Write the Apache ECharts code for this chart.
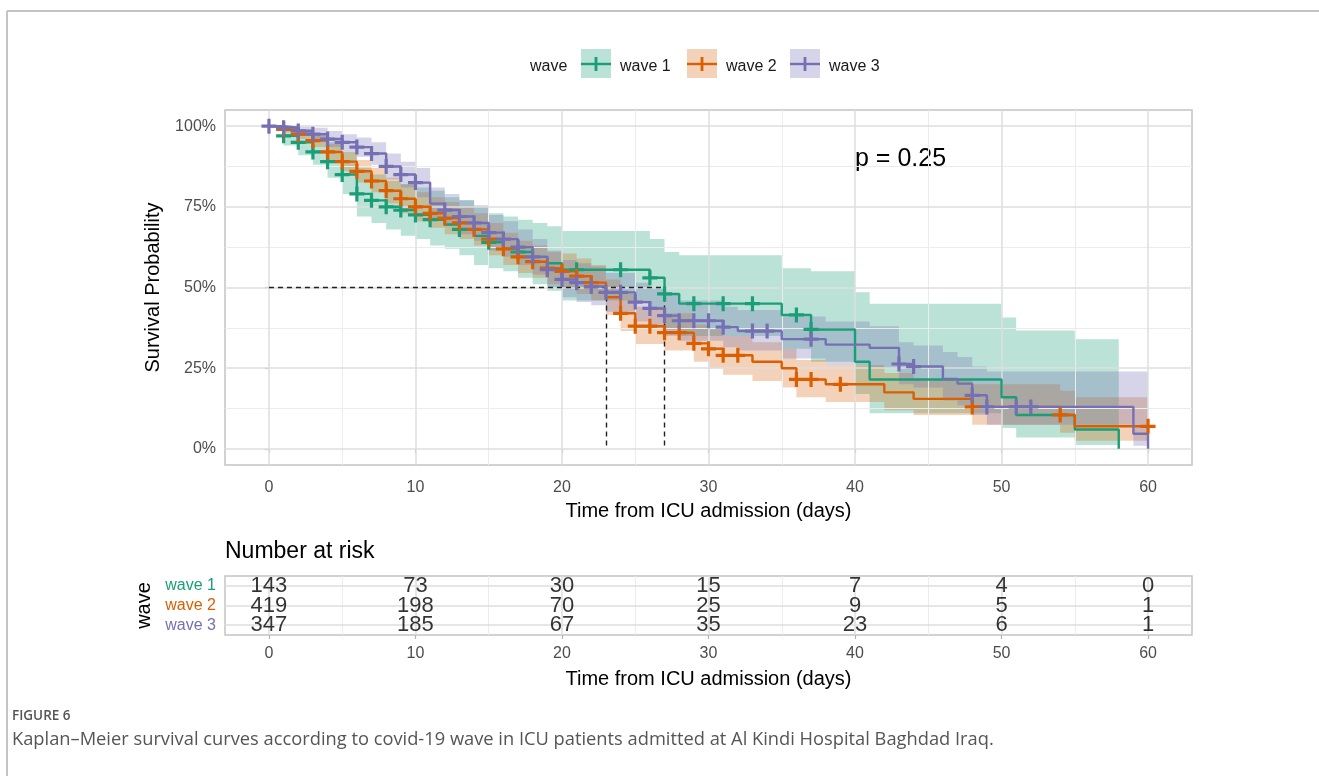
<!DOCTYPE html>
<html>
<head>
<meta charset="utf-8">
<script src="https://cdn.jsdelivr.net/npm/echarts@6/dist/echarts.min.js"></script>
<style>
  html, body { margin: 0; padding: 0; background: #fff; }
  #chart { width: 1319px; height: 776px; }
</style>
</head>
<body>
<div id="chart"></div>
<script>
// ---- data ----
var waveNames = ['wave 1', 'wave 2', 'wave 3'];
var waveColors = ['#1b9e77', '#d95f02', '#7570b3'];
var bandColors = ['rgba(27,158,119,0.30)', 'rgba(217,95,2,0.28)', 'rgba(117,112,179,0.30)'];

// wave 1 : step times (days), survival (%), 95% band
var w1Time  = [0, 1, 2, 3, 4, 5, 6, 7, 8, 9, 10, 11, 12, 13, 14, 15, 16, 17, 18, 19, 20, 26, 27, 28, 35, 37, 40, 41, 50, 51, 55, 58];
var w1Surv  = [100, 97, 95, 92, 89, 85, 79, 77, 75, 74, 72.5, 71, 69.5, 68, 66, 64, 62, 61, 59.5, 57.5, 55.5, 53, 48, 45, 41.5, 37, 27, 21.5, 16, 10.5, 6, 0];
var w1Lower = [100, 94, 91, 88, 84, 79, 72, 70, 68, 66, 65, 63, 62, 60, 57, 56, 55, 53, 51, 49, 46, 43, 37, 35, 31, 27, 17, 11, 6.5, 3.5, 1.2, 0];
var w1Upper = [100, 100, 99, 97, 95, 92, 87, 85, 83, 82, 81, 80, 78, 77, 75, 73, 72, 71, 70, 69, 67.5, 65, 61, 60, 56, 55, 48.5, 45, 40.7, 36.7, 34, 0];
var w1Censor = [1, 2, 3, 4, 5, 6, 7, 8, 9, 10, 11, 13, 15, 17, 21, 24, 26, 27, 29, 31, 33, 36, 37];

// wave 2
var w2Time  = [0, 1, 2, 3, 4, 5, 6, 7, 8, 9, 10, 11, 12, 13, 14, 15, 16, 17, 18, 19, 20, 21, 22, 23, 24, 25, 27, 29, 30, 31, 33, 35, 36, 38, 42, 44, 48, 54, 55, 60];
var w2Surv  = [100, 99, 97.5, 95.5, 92, 89, 86, 83, 80, 77.5, 75, 73, 71.5, 70, 68, 65, 62, 59.5, 58, 56, 55, 53.5, 51.5, 47, 42, 38, 36, 32.7, 31, 29, 27, 25, 21.5, 20, 17.5, 15.5, 13, 10.5, 7, 7];
var w2Lower = [100, 98, 96, 93.5, 89.5, 86, 82.5, 79.5, 76, 73, 70.5, 68.5, 66.5, 65, 63, 60, 57, 54.5, 53, 51, 49.5, 48, 46, 41.5, 36.5, 32.5, 30.5, 27, 25, 23, 21, 19, 16, 14.5, 12, 10.5, 7.5, 5, 2.5, 0];
var w2Upper = [100, 100, 99, 97.5, 94.5, 92, 89.5, 87, 84, 82, 79.5, 78, 76.5, 75, 73, 70, 67, 64.5, 63, 61, 60.5, 59, 57, 52.5, 48, 44, 42, 38.5, 37, 35, 33, 31, 27.5, 26, 23.5, 21.5, 20, 18, 16, 0];
var w2Censor = [1, 2, 3, 4, 5, 6, 7, 8, 9, 10, 11, 12, 13, 14, 15, 16, 17, 18, 19, 20, 21, 22, 24, 25, 26, 27, 28, 29, 30, 31, 32, 36, 37, 39, 48, 54, 60];

// wave 3
var w3Time  = [0, 1, 2, 3, 4, 5, 6, 7, 8, 9, 10, 11, 12, 13, 14, 15, 16, 17, 18, 19, 20, 21, 22, 23, 25, 26, 27, 28, 31, 32, 35, 38, 41, 43, 44, 46, 47, 48, 49, 59, 60];
var w3Surv  = [100, 99.5, 98.5, 97.5, 96, 95, 93.5, 91.5, 87.5, 85, 82.5, 76, 74, 72, 70, 67, 65, 62.5, 59.5, 55.5, 52.5, 51.5, 50.3, 48.5, 45.5, 43.5, 41.3, 39.7, 37.7, 36.5, 34, 32.3, 31.3, 26.3, 25.5, 21.7, 20.2, 16.6, 13, 4.7, 0];
var w3Lower = [100, 98.5, 97, 95.5, 93.5, 92, 90.5, 88, 83.5, 81, 78, 71, 69, 66.5, 64.5, 61.5, 59.5, 57, 54, 50, 47, 45.5, 44.5, 42.5, 39.5, 37.5, 35, 33.5, 31.5, 30.5, 28, 26, 25, 20, 19, 15, 13.5, 10.5, 7.5, 1, 0];
var w3Upper = [100, 100, 100, 99.5, 98.5, 97.5, 96.5, 95, 91.5, 89, 87, 81, 79, 77, 75.5, 72.5, 70.5, 68, 65, 61.5, 58.5, 57.5, 56.5, 54.5, 51.5, 50, 48, 46, 44, 43, 41, 39.5, 38, 33, 32, 30, 28.5, 25.5, 24, 24, 0];
var w3Censor = [0, 1, 2, 3, 4, 5, 6, 7, 8, 9, 10, 12, 13, 14, 15, 16, 17, 18, 19, 20, 21, 22, 23, 24, 25, 26, 27, 28, 29, 30, 31, 33, 34, 37, 43, 44, 48, 49, 51, 52];

// median survival guide lines
var medianLevel = 50;
var medianTimes = [23, 27];

// axes
var xTicks = [0, 10, 20, 30, 40, 50, 60];
var xMinor = [5, 15, 25, 35, 45, 55];
var yTicks = [0, 25, 50, 75, 100];
var yMinor = [12.5, 37.5, 62.5, 87.5];

// number at risk table
var riskTimes = [0, 10, 20, 30, 40, 50, 60];
var riskW1 = [143, 73, 30, 15, 7, 4, 0];
var riskW2 = [419, 198, 70, 25, 9, 5, 1];
var riskW3 = [347, 185, 67, 35, 23, 6, 1];

var pText = 'p = 0.25';
var captionHead = 'FIGURE 6';
var captionText = 'Kaplan\u2013Meier survival curves according to covid-19 wave in ICU patients admitted at Al Kindi Hospital Baghdad Iraq.';

// ---- helpers ----
var FONT = '"Liberation Sans", Arial, sans-serif';
var CAPFONT = '"Open Sans", "Noto Sans", sans-serif';
var PLUS = 'path://M0,5.5h14v3h-14z M5.5,0h3v14h-3z';

var waves = [
  { time: w1Time, surv: w1Surv, lo: w1Lower, hi: w1Upper, cens: w1Censor },
  { time: w2Time, surv: w2Surv, lo: w2Lower, hi: w2Upper, cens: w2Censor },
  { time: w3Time, surv: w3Surv, lo: w3Lower, hi: w3Upper, cens: w3Censor }
];

function survAt(w, t) {
  var s = w.surv[0];
  for (var i = 0; i < w.time.length; i++) {
    if (w.time[i] <= t) s = w.surv[i];
  }
  return s;
}

function bandSeries(w, color) {
  return {
    type: 'custom',
    xAxisIndex: 0, yAxisIndex: 0,
    silent: true, animation: false, z: 2,
    data: [[0, 0]],
    renderItem: function (params, api) {
      var top = [], bot = [];
      for (var i = 0; i < w.time.length - 1; i++) {
        top.push(api.coord([w.time[i], w.hi[i]]));
        top.push(api.coord([w.time[i + 1], w.hi[i]]));
        bot.push(api.coord([w.time[i], w.lo[i]]));
        bot.push(api.coord([w.time[i + 1], w.lo[i]]));
      }
      return {
        type: 'polygon',
        shape: { points: top.concat(bot.reverse()) },
        style: { fill: color }
      };
    }
  };
}

function gridLines(xi, yi, xs, xm, ys, ym) {
  var d = [];
  xm.forEach(function (v) { d.push({ xAxis: v, lineStyle: { color: '#ececec', width: 1, type: 'solid' } }); });
  ym.forEach(function (v) { d.push({ yAxis: v, lineStyle: { color: '#ececec', width: 1, type: 'solid' } }); });
  xs.forEach(function (v) { d.push({ xAxis: v, lineStyle: { color: '#dedede', width: 1.5, type: 'solid' } }); });
  ys.forEach(function (v) { d.push({ yAxis: v, lineStyle: { color: '#dedede', width: 1.5, type: 'solid' } }); });
  return {
    type: 'line', xAxisIndex: xi, yAxisIndex: yi, z: 0,
    data: [[xs[0], ys.length ? ys[0] : 1]], symbol: 'none',
    lineStyle: { opacity: 0 }, silent: true, animation: false,
    markLine: {
      symbol: ['none', 'none'], silent: true, animation: false, label: { show: false },
      lineStyle: { type: 'solid' }, data: d
    }
  };
}

var series = [];
series.push(gridLines(0, 0, xTicks, xMinor, yTicks, yMinor));

waves.forEach(function (w, k) { series.push(bandSeries(w, bandColors[k])); });

waves.forEach(function (w, k) {
  series.push({
    type: 'line', name: waveNames[k], xAxisIndex: 0, yAxisIndex: 0,
    step: 'end', showSymbol: false, symbol: 'none', animation: false, z: 5,
    data: w.time.map(function (t, i) { return [t, w.surv[i]]; }),
    lineStyle: { color: waveColors[k], width: 2.4 }
  });
});

// median dashed guides
series.push({
  type: 'line', xAxisIndex: 0, yAxisIndex: 0, data: [], z: 6, animation: false,
  markLine: {
    symbol: ['none', 'none'], silent: true, animation: false, label: { show: false },
    lineStyle: { color: '#222', type: [5, 4], width: 1.4 },
    data: [
      [{ coord: [0, medianLevel] }, { coord: [medianTimes[1], medianLevel] }],
      [{ coord: [medianTimes[0], medianLevel] }, { coord: [medianTimes[0], 0] }],
      [{ coord: [medianTimes[1], medianLevel] }, { coord: [medianTimes[1], 0] }]
    ]
  }
});

waves.forEach(function (w, k) {
  series.push({
    type: 'scatter', xAxisIndex: 0, yAxisIndex: 0, z: 7, animation: false,
    symbol: PLUS, symbolSize: 15, silent: true,
    itemStyle: { color: waveColors[k], opacity: 1 },
    data: w.cens.map(function (t) { return [t, survAt(w, t)]; })
  });
});

// risk table
series.push(gridLines(1, 1, xTicks, xMinor, [1, 2, 3], []));
[riskW1, riskW2, riskW3].forEach(function (arr, k) {
  series.push({
    type: 'scatter', xAxisIndex: 1, yAxisIndex: 1, z: 5, animation: false, silent: true,
    symbolSize: 1, itemStyle: { color: 'rgba(0,0,0,0)' },
    data: riskTimes.map(function (t, i) { return [t, k + 1, arr[i]]; }),
    label: {
      show: true, position: 'inside', color: '#000', fontSize: 22, fontFamily: FONT,
      formatter: function (p) { return String(p.value[2]); }
    }
  });
});

var axisLabelStyle = { color: '#4d4d4d', fontSize: 16, fontFamily: FONT };
var titleStyle = { color: '#000', fontSize: 20, fontFamily: FONT };

// legend drawn as keys like ggplot
var legendGraphics = [
  { type: 'text', left: 530, top: 59, style: { text: 'wave', font: '16px ' + FONT, fill: '#1a1a1a' } }
];
var keyX = [581, 687, 790];
waveNames.forEach(function (n, k) {
  var x = keyX[k];
  legendGraphics.push({ type: 'rect', shape: { x: x, y: 49, width: 30, height: 29 }, style: { fill: bandColors[k] } });
  legendGraphics.push({ type: 'line', shape: { x1: x, y1: 64, x2: x + 30, y2: 64 }, style: { stroke: waveColors[k], lineWidth: 2.4 } });
  legendGraphics.push({ type: 'line', shape: { x1: x + 15, y1: 57, x2: x + 15, y2: 71 }, style: { stroke: waveColors[k], lineWidth: 2.8 } });
  legendGraphics.push({ type: 'text', left: x + 39, top: 59, style: { text: n, font: '16px ' + FONT, fill: '#1a1a1a' } });
});

var option = {
  backgroundColor: '#fff',
  animation: false,
  grid: [
    { left: 225, right: 127, top: 110, height: 355, show: true, borderColor: '#c4c4c4', borderWidth: 1.5, backgroundColor: 'transparent' },
    { left: 225, right: 127, top: 576, height: 59, show: true, borderColor: '#c4c4c4', borderWidth: 1.5, backgroundColor: 'transparent' }
  ],
  xAxis: [
    {
      type: 'value', gridIndex: 0, min: -3, max: 63,
      axisLine: { show: false }, splitLine: { show: false },
      axisTick: { show: true, customValues: xTicks, length: 4, lineStyle: { color: '#b3b3b3', width: 1.2 } },
      axisLabel: Object.assign({ customValues: xTicks, margin: 15 }, axisLabelStyle),
      name: 'Time from ICU admission (days)', nameLocation: 'middle', nameGap: 36, nameTextStyle: titleStyle
    },
    {
      type: 'value', gridIndex: 1, min: -3, max: 63,
      axisLine: { show: false }, splitLine: { show: false },
      axisTick: { show: true, customValues: xTicks, length: 4, lineStyle: { color: '#b3b3b3', width: 1.2 } },
      axisLabel: Object.assign({ customValues: xTicks, margin: 11 }, axisLabelStyle),
      name: 'Time from ICU admission (days)', nameLocation: 'middle', nameGap: 34, nameTextStyle: titleStyle
    }
  ],
  yAxis: [
    {
      type: 'value', gridIndex: 0, min: -5, max: 105,
      axisLine: { show: false }, splitLine: { show: false },
      axisTick: { show: true, customValues: yTicks, length: 4, lineStyle: { color: '#b3b3b3', width: 1.2 } },
      axisLabel: Object.assign({ customValues: yTicks, margin: 9, formatter: function (v) { return v + '%'; } }, axisLabelStyle),
      name: 'Survival Probability', nameLocation: 'middle', nameRotate: 90, nameGap: 62, nameTextStyle: titleStyle
    },
    {
      type: 'value', gridIndex: 1, min: 0.5, max: 3.5, inverse: true,
      axisLine: { show: false }, splitLine: { show: false },
      axisTick: { show: true, customValues: [1, 2, 3], length: 4, lineStyle: { color: '#b3b3b3', width: 1.2 } },
      axisLabel: {
        customValues: [1, 2, 3], margin: 9, fontSize: 16, fontFamily: FONT,
        formatter: function (v) { return '{w' + v + '|' + waveNames[v - 1] + '}'; },
        rich: {
          w1: { color: '#1b9e77', fontSize: 16, fontFamily: FONT },
          w2: { color: '#d95f02', fontSize: 16, fontFamily: FONT },
          w3: { color: '#7570b3', fontSize: 16, fontFamily: FONT }
        }
      },
      name: 'wave', nameLocation: 'middle', nameRotate: 90, nameGap: 62, nameTextStyle: titleStyle
    }
  ],
  graphic: [
    { type: 'line', shape: { x1: 7, y1: 11, x2: 1319, y2: 11 }, style: { stroke: '#c4c4c4', lineWidth: 2 } },
    { type: 'line', shape: { x1: 7, y1: 11, x2: 7, y2: 776 }, style: { stroke: '#c4c4c4', lineWidth: 2 } },
    { type: 'text', left: 855, top: 147, style: { text: pText, font: '25px ' + FONT, fill: '#000' } },
    { type: 'text', left: 225, top: 540, style: { text: 'Number at risk', font: '23px ' + FONT, fill: '#000' } },
    { type: 'text', left: 12, top: 709, style: { text: captionHead, font: '600 13.5px ' + CAPFONT, fill: '#555' } },
    { type: 'text', left: 12, top: 731, style: { text: captionText, font: '18.3px ' + CAPFONT, fill: '#555' } }
  ].concat(legendGraphics),
  series: series
};

var chart = echarts.init(document.getElementById('chart'));
chart.setOption(option);
</script>
</body>
</html>
